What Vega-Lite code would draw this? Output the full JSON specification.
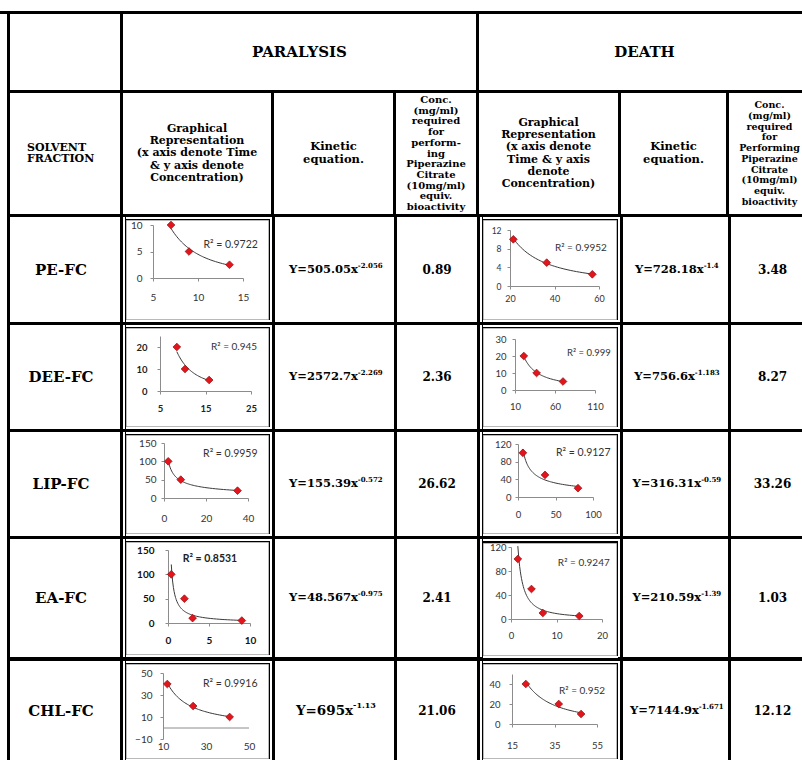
{
  "$schema": "https://vega.github.io/schema/vega-lite/v6.json",
  "background": "black",
  "padding": 0,
  "spacing": 3,
  "config": {
    "view": {"fill": "white", "stroke": null},
    "concat": {"spacing": 0},
    "text": {"font": "DejaVu Serif", "fontWeight": "bold", "color": "#000000", "lineBreak": "\n"},
    "axis": {"grid": false, "domainColor": "#8c8c8c", "tickColor": "#8c8c8c", "tickSize": 3, "labelFont": "Lato", "labelColor": "#333333", "labelFlush": false, "labelOverlap": false, "labelBound": false},
    "line": {"color": "#3a3a3a", "strokeWidth": 1},
    "point": {"shape": "diamond", "filled": true, "size": 60, "color": "#e3141b", "stroke": "#8e0b0b", "strokeWidth": 0.7, "opacity": 1}
  },
  "vconcat": [
    {"width": 802, "height": 11, "view": {"fill": "white"}, "data": {"values": []}, "mark": "point"},
    {
      "hconcat": [
        {"width": 7, "height": 746, "view": {"fill": "white"}, "data": {"values": []}, "mark": "point"},
        {
          "vconcat": [
            {
              "hconcat": [
                {"width": 110, "height": 76, "view": {"fill": "white"}, "data": {"values": []}, "mark": "point"},
                {"width": 353, "height": 76, "view": {"fill": "white"}, "data": {"values": [{"t": "PARALYSIS"}]}, "mark": {"type": "text", "fontSize": 15}, "encoding": {"text": {"field": "t"}}},
                {"width": 323, "height": 76, "view": {"fill": "white"}, "data": {"values": [{"t": "DEATH"}]}, "mark": {"type": "text", "fontSize": 15, "dx": 4}, "encoding": {"text": {"field": "t"}}}
              ],
              "spacing": 3
            },
            {
              "hconcat": [
                {"width": 110, "height": 121, "view": {"fill": "white"}, "data": {"values": [{"t": "SOLVENT\nFRACTION"}]}, "mark": {"type": "text", "fontSize": 11, "align": "left", "dx": -38, "dy": -5.75, "lineHeight": 11.5}, "encoding": {"text": {"field": "t"}}},
                {"width": 148, "height": 121, "view": {"fill": "white"}, "data": {"values": [{"t": "Graphical\nRepresentation\n(x axis denote Time\n& y axis denote\nConcentration)"}]}, "mark": {"type": "text", "fontSize": 11, "lineHeight": 12.4, "dy": -24.8}, "encoding": {"text": {"field": "t"}}},
                {"width": 119, "height": 121, "view": {"fill": "white"}, "data": {"values": [{"t": "Kinetic\nequation."}]}, "mark": {"type": "text", "fontSize": 11.5, "lineHeight": 12.4, "dy": -6.2}, "encoding": {"text": {"field": "t"}}},
                {"width": 80, "height": 121, "view": {"fill": "white"}, "data": {"values": [{"t": "Conc.\n(mg/ml)\nrequired\nfor\nperform-\ning\nPiperazine\nCitrate\n(10mg/ml)\nequiv.\nbioactivity"}]}, "mark": {"type": "text", "fontSize": 10, "lineHeight": 10.7, "dy": -53.5}, "encoding": {"text": {"field": "t"}}},
                {"width": 139, "height": 121, "view": {"fill": "white"}, "data": {"values": [{"t": "Graphical\nRepresentation\n(x axis denote\nTime & y axis\ndenote\nConcentration)"}]}, "mark": {"type": "text", "fontSize": 11, "lineHeight": 12.3, "dy": -30.75}, "encoding": {"text": {"field": "t"}}},
                {"width": 105, "height": 121, "view": {"fill": "white"}, "data": {"values": [{"t": "Kinetic\nequation."}]}, "mark": {"type": "text", "fontSize": 11.5, "lineHeight": 12.4, "dy": -6.2}, "encoding": {"text": {"field": "t"}}},
                {"width": 73, "height": 121, "view": {"fill": "white"}, "data": {"values": [{"t": "Conc.\n(mg/ml)\nrequired\nfor\nPerforming\nPiperazine\nCitrate\n(10mg/ml)\nequiv.\nbioactivity"}]}, "mark": {"type": "text", "fontSize": 9.5, "lineHeight": 10.7, "dx": 4, "dy": -48.15}, "encoding": {"text": {"field": "t"}}}
              ],
              "spacing": 3
            },
            {
              "hconcat": [
                {"width": 110, "height": 105, "view": {"fill": "white"}, "data": {"values": [{"t": "PE-FC"}]}, "mark": {"type": "text", "fontSize": 15, "dx": -4}, "encoding": {"text": {"field": "t"}}},
                {
                  "hconcat": [
                    {"width": 2, "height": 105, "view": {"fill": "white"}, "data": {"values": []}, "mark": "point"},
                    {
                      "vconcat": [
                        {"width": 144, "height": 2, "view": {"fill": "white"}, "data": {"values": []}, "mark": "point"},
                        {
                          "width": 142, "height": 99,
                          "view": {"fill": "white", "stroke": "#b9b9b9", "strokeWidth": 1},
                          "data": {"values": [{"t": 7, "c": 10}, {"t": 9, "c": 5}, {"t": 13.5, "c": 2.5}]},
                          "layer": [
                            {"transform": [{"regression": "c", "on": "t", "method": "pow"}], "mark": "line", "encoding": {
                              "x": {"field": "t", "type": "quantitative", "title": null, "scale": {"domain": [5, 15], "range": [27, 117], "nice": false, "zero": false}, "axis": {"values": [5, 10, 15], "offset": -41, "labelFontSize": 10, "labelPadding": 11, "labelOverlap": false}},
                              "y": {"field": "c", "type": "quantitative", "title": null, "scale": {"domain": [0, 10], "range": [58, 5], "nice": false, "zero": false}, "axis": {"values": [0, 5, 10], "offset": -27, "labelFontSize": 10, "labelPadding": 8, "labelOverlap": false}}}},
                            {"mark": "point", "encoding": {
                              "x": {"field": "t", "type": "quantitative", "title": null, "scale": {"domain": [5, 15], "range": [27, 117], "nice": false, "zero": false}, "axis": {"values": [5, 10, 15], "offset": -41, "labelFontSize": 10, "labelPadding": 11, "labelOverlap": false}},
                              "y": {"field": "c", "type": "quantitative", "title": null, "scale": {"domain": [0, 10], "range": [58, 5], "nice": false, "zero": false}, "axis": {"values": [0, 5, 10], "offset": -27, "labelFontSize": 10, "labelPadding": 8, "labelOverlap": false}}}},
                            {"data": {"values": [{"r": "R² = 0.9722"}]}, "mark": {"type": "text", "font": "Lato", "fontWeight": "normal", "fontSize": 10.5, "align": "left", "color": "#333333"}, "encoding": {
                              "x": {"datum": 10.6, "type": "quantitative", "scale": {"domain": [5, 15], "range": [27, 117], "nice": false, "zero": false}, "axis": {"values": [5, 10, 15], "offset": -41, "labelFontSize": 10, "labelPadding": 11, "labelOverlap": false}},
                              "y": {"datum": 6.2, "type": "quantitative", "scale": {"domain": [0, 10], "range": [58, 5], "nice": false, "zero": false}, "axis": {"values": [0, 5, 10], "offset": -27, "labelFontSize": 10, "labelPadding": 8, "labelOverlap": false}},
                              "text": {"field": "r", "type": "nominal"}}}
                          ]
                        },
                        {"width": 144, "height": 2, "view": {"fill": "white"}, "data": {"values": []}, "mark": "point"}
                      ],
                      "spacing": 0
                    },
                    {"width": 2, "height": 105, "view": {"fill": "white"}, "data": {"values": []}, "mark": "point"}
                  ],
                  "spacing": 0
                },
                {"width": 119, "height": 105, "view": {"fill": "white"}, "data": {"values": [{"b": "Y=505.05x", "e": "-2.056"}]}, "layer": [{"mark": {"type": "text", "fontSize": 11.5, "align": "right", "dx": 23.3}, "encoding": {"text": {"field": "b"}}}, {"mark": {"type": "text", "fontSize": 7, "align": "left", "dx": 23.3, "dy": -4}, "encoding": {"text": {"field": "e"}}}]},
                {"width": 80, "height": 105, "view": {"fill": "white"}, "data": {"values": [{"t": "0.89"}]}, "mark": {"type": "text", "fontSize": 12}, "encoding": {"text": {"field": "t"}}},
                {
                  "hconcat": [
                    {"width": 2, "height": 105, "view": {"fill": "white"}, "data": {"values": []}, "mark": "point"},
                    {
                      "vconcat": [
                        {"width": 135, "height": 2, "view": {"fill": "white"}, "data": {"values": []}, "mark": "point"},
                        {
                          "width": 133, "height": 99,
                          "view": {"fill": "white", "stroke": "#b9b9b9", "strokeWidth": 1},
                          "data": {"values": [{"t": 21.5, "c": 10}, {"t": 36.5, "c": 5}, {"t": 57, "c": 2.5}]},
                          "layer": [
                            {"transform": [{"regression": "c", "on": "t", "method": "pow"}], "mark": "line", "encoding": {
                              "x": {"field": "t", "type": "quantitative", "title": null, "scale": {"domain": [20, 60], "range": [27, 116], "nice": false, "zero": false}, "axis": {"values": [20, 40, 60], "offset": -33, "labelFontSize": 9, "labelPadding": 5, "labelOverlap": false}},
                              "y": {"field": "c", "type": "quantitative", "title": null, "scale": {"domain": [0, 12], "range": [66, 10], "nice": false, "zero": false}, "axis": {"values": [0, 4, 8, 12], "offset": -27, "labelFontSize": 8.5, "labelPadding": 6, "labelOverlap": false}}}},
                            {"mark": "point", "encoding": {
                              "x": {"field": "t", "type": "quantitative", "title": null, "scale": {"domain": [20, 60], "range": [27, 116], "nice": false, "zero": false}, "axis": {"values": [20, 40, 60], "offset": -33, "labelFontSize": 9, "labelPadding": 5, "labelOverlap": false}},
                              "y": {"field": "c", "type": "quantitative", "title": null, "scale": {"domain": [0, 12], "range": [66, 10], "nice": false, "zero": false}, "axis": {"values": [0, 4, 8, 12], "offset": -27, "labelFontSize": 8.5, "labelPadding": 6, "labelOverlap": false}}}},
                            {"data": {"values": [{"r": "R² = 0.9952"}]}, "mark": {"type": "text", "font": "Lato", "fontWeight": "normal", "fontSize": 10, "align": "left", "color": "#333333"}, "encoding": {
                              "x": {"datum": 40.2, "type": "quantitative", "scale": {"domain": [20, 60], "range": [27, 116], "nice": false, "zero": false}, "axis": {"values": [20, 40, 60], "offset": -33, "labelFontSize": 9, "labelPadding": 5, "labelOverlap": false}},
                              "y": {"datum": 8.1, "type": "quantitative", "scale": {"domain": [0, 12], "range": [66, 10], "nice": false, "zero": false}, "axis": {"values": [0, 4, 8, 12], "offset": -27, "labelFontSize": 8.5, "labelPadding": 6, "labelOverlap": false}},
                              "text": {"field": "r", "type": "nominal"}}}
                          ]
                        },
                        {"width": 135, "height": 2, "view": {"fill": "white"}, "data": {"values": []}, "mark": "point"}
                      ],
                      "spacing": 0
                    },
                    {"width": 2, "height": 105, "view": {"fill": "white"}, "data": {"values": []}, "mark": "point"}
                  ],
                  "spacing": 0
                },
                {"width": 105, "height": 105, "view": {"fill": "white"}, "data": {"values": [{"b": "Y=728.18x", "e": "-1.4"}]}, "layer": [{"mark": {"type": "text", "fontSize": 11.5, "align": "right", "dx": 28.15}, "encoding": {"text": {"field": "b"}}}, {"mark": {"type": "text", "fontSize": 7, "align": "left", "dx": 28.15, "dy": -4}, "encoding": {"text": {"field": "e"}}}]},
                {"width": 73, "height": 105, "view": {"fill": "white"}, "data": {"values": [{"t": "3.48"}]}, "mark": {"type": "text", "fontSize": 12, "dx": 5}, "encoding": {"text": {"field": "t"}}}
              ],
              "spacing": 3
            },
            {
              "hconcat": [
                {"width": 110, "height": 104, "view": {"fill": "white"}, "data": {"values": [{"t": "DEE-FC"}]}, "mark": {"type": "text", "fontSize": 15, "dx": -4}, "encoding": {"text": {"field": "t"}}},
                {
                  "hconcat": [
                    {"width": 2, "height": 104, "view": {"fill": "white"}, "data": {"values": []}, "mark": "point"},
                    {
                      "vconcat": [
                        {"width": 144, "height": 2, "view": {"fill": "white"}, "data": {"values": []}, "mark": "point"},
                        {
                          "width": 142, "height": 98,
                          "view": {"fill": "white", "stroke": "#b9b9b9", "strokeWidth": 1},
                          "data": {"values": [{"t": 8.7, "c": 20}, {"t": 10.5, "c": 10}, {"t": 15.8, "c": 5}]},
                          "layer": [
                            {"transform": [{"regression": "c", "on": "t", "method": "pow"}], "mark": "line", "encoding": {
                              "x": {"field": "t", "type": "quantitative", "title": null, "scale": {"domain": [5, 25], "range": [34, 125], "nice": false, "zero": false}, "axis": {"values": [5, 15, 25], "offset": -35, "labelFontSize": 9.5, "labelPadding": 9, "labelFontWeight": "bold", "labelColor": "#222222", "labelOverlap": false}},
                              "y": {"field": "c", "type": "quantitative", "title": null, "scale": {"domain": [0, 25], "range": [63, 8], "nice": false, "zero": false}, "axis": {"values": [0, 10, 20], "offset": -34, "labelFontSize": 9.5, "labelPadding": 10, "labelFontWeight": "bold", "labelColor": "#222222", "labelOverlap": false}}}},
                            {"mark": "point", "encoding": {
                              "x": {"field": "t", "type": "quantitative", "title": null, "scale": {"domain": [5, 25], "range": [34, 125], "nice": false, "zero": false}, "axis": {"values": [5, 15, 25], "offset": -35, "labelFontSize": 9.5, "labelPadding": 9, "labelFontWeight": "bold", "labelColor": "#222222", "labelOverlap": false}},
                              "y": {"field": "c", "type": "quantitative", "title": null, "scale": {"domain": [0, 25], "range": [63, 8], "nice": false, "zero": false}, "axis": {"values": [0, 10, 20], "offset": -34, "labelFontSize": 9.5, "labelPadding": 10, "labelFontWeight": "bold", "labelColor": "#222222", "labelOverlap": false}}}},
                            {"data": {"values": [{"r": "R² = 0.945"}]}, "mark": {"type": "text", "font": "Lato", "fontWeight": "normal", "fontSize": 10, "align": "left", "color": "#333333"}, "encoding": {
                              "x": {"datum": 16.2, "type": "quantitative", "scale": {"domain": [5, 25], "range": [34, 125], "nice": false, "zero": false}, "axis": {"values": [5, 15, 25], "offset": -35, "labelFontSize": 9.5, "labelPadding": 9, "labelFontWeight": "bold", "labelColor": "#222222", "labelOverlap": false}},
                              "y": {"datum": 20, "type": "quantitative", "scale": {"domain": [0, 25], "range": [63, 8], "nice": false, "zero": false}, "axis": {"values": [0, 10, 20], "offset": -34, "labelFontSize": 9.5, "labelPadding": 10, "labelFontWeight": "bold", "labelColor": "#222222", "labelOverlap": false}},
                              "text": {"field": "r", "type": "nominal"}}}
                          ]
                        },
                        {"width": 144, "height": 2, "view": {"fill": "white"}, "data": {"values": []}, "mark": "point"}
                      ],
                      "spacing": 0
                    },
                    {"width": 2, "height": 104, "view": {"fill": "white"}, "data": {"values": []}, "mark": "point"}
                  ],
                  "spacing": 0
                },
                {"width": 119, "height": 104, "view": {"fill": "white"}, "data": {"values": [{"b": "Y=2572.7x", "e": "-2.269"}]}, "layer": [{"mark": {"type": "text", "fontSize": 11.5, "align": "right", "dx": 23.3}, "encoding": {"text": {"field": "b"}}}, {"mark": {"type": "text", "fontSize": 7, "align": "left", "dx": 23.3, "dy": -4}, "encoding": {"text": {"field": "e"}}}]},
                {"width": 80, "height": 104, "view": {"fill": "white"}, "data": {"values": [{"t": "2.36"}]}, "mark": {"type": "text", "fontSize": 12}, "encoding": {"text": {"field": "t"}}},
                {
                  "hconcat": [
                    {"width": 2, "height": 104, "view": {"fill": "white"}, "data": {"values": []}, "mark": "point"},
                    {
                      "vconcat": [
                        {"width": 135, "height": 2, "view": {"fill": "white"}, "data": {"values": []}, "mark": "point"},
                        {
                          "width": 133, "height": 98,
                          "view": {"fill": "white", "stroke": "#b9b9b9", "strokeWidth": 1},
                          "data": {"values": [{"t": 21, "c": 20}, {"t": 37, "c": 10}, {"t": 70, "c": 5}]},
                          "layer": [
                            {"transform": [{"regression": "c", "on": "t", "method": "pow"}], "mark": "line", "encoding": {
                              "x": {"field": "t", "type": "quantitative", "title": null, "scale": {"domain": [10, 110], "range": [32, 112], "nice": false, "zero": false}, "axis": {"values": [10, 60, 110], "offset": -36, "labelFontSize": 9.5, "labelPadding": 8, "labelOverlap": false}},
                              "y": {"field": "c", "type": "quantitative", "title": null, "scale": {"domain": [0, 30], "range": [62, 11], "nice": false, "zero": false}, "axis": {"values": [0, 10, 20, 30], "offset": -32, "labelFontSize": 9.5, "labelPadding": 6, "labelOverlap": false}}}},
                            {"mark": "point", "encoding": {
                              "x": {"field": "t", "type": "quantitative", "title": null, "scale": {"domain": [10, 110], "range": [32, 112], "nice": false, "zero": false}, "axis": {"values": [10, 60, 110], "offset": -36, "labelFontSize": 9.5, "labelPadding": 8, "labelOverlap": false}},
                              "y": {"field": "c", "type": "quantitative", "title": null, "scale": {"domain": [0, 30], "range": [62, 11], "nice": false, "zero": false}, "axis": {"values": [0, 10, 20, 30], "offset": -32, "labelFontSize": 9.5, "labelPadding": 6, "labelOverlap": false}}}},
                            {"data": {"values": [{"r": "R² = 0.999"}]}, "mark": {"type": "text", "font": "Lato", "fontWeight": "normal", "fontSize": 9.5, "align": "left", "color": "#333333"}, "encoding": {
                              "x": {"datum": 75, "type": "quantitative", "scale": {"domain": [10, 110], "range": [32, 112], "nice": false, "zero": false}, "axis": {"values": [10, 60, 110], "offset": -36, "labelFontSize": 9.5, "labelPadding": 8, "labelOverlap": false}},
                              "y": {"datum": 21.8, "type": "quantitative", "scale": {"domain": [0, 30], "range": [62, 11], "nice": false, "zero": false}, "axis": {"values": [0, 10, 20, 30], "offset": -32, "labelFontSize": 9.5, "labelPadding": 6, "labelOverlap": false}},
                              "text": {"field": "r", "type": "nominal"}}}
                          ]
                        },
                        {"width": 135, "height": 2, "view": {"fill": "white"}, "data": {"values": []}, "mark": "point"}
                      ],
                      "spacing": 0
                    },
                    {"width": 2, "height": 104, "view": {"fill": "white"}, "data": {"values": []}, "mark": "point"}
                  ],
                  "spacing": 0
                },
                {"width": 105, "height": 104, "view": {"fill": "white"}, "data": {"values": [{"b": "Y=756.6x", "e": "-1.183"}]}, "layer": [{"mark": {"type": "text", "fontSize": 11.5, "align": "right", "dx": 19.35}, "encoding": {"text": {"field": "b"}}}, {"mark": {"type": "text", "fontSize": 7, "align": "left", "dx": 19.35, "dy": -4}, "encoding": {"text": {"field": "e"}}}]},
                {"width": 73, "height": 104, "view": {"fill": "white"}, "data": {"values": [{"t": "8.27"}]}, "mark": {"type": "text", "fontSize": 12, "dx": 5}, "encoding": {"text": {"field": "t"}}}
              ],
              "spacing": 3
            },
            {
              "hconcat": [
                {"width": 110, "height": 104, "view": {"fill": "white"}, "data": {"values": [{"t": "LIP-FC"}]}, "mark": {"type": "text", "fontSize": 15, "dx": -4}, "encoding": {"text": {"field": "t"}}},
                {
                  "hconcat": [
                    {"width": 2, "height": 104, "view": {"fill": "white"}, "data": {"values": []}, "mark": "point"},
                    {
                      "vconcat": [
                        {"width": 144, "height": 2, "view": {"fill": "white"}, "data": {"values": []}, "mark": "point"},
                        {
                          "width": 142, "height": 98,
                          "view": {"fill": "white", "stroke": "#b9b9b9", "strokeWidth": 1},
                          "data": {"values": [{"t": 2, "c": 100}, {"t": 8, "c": 50}, {"t": 35, "c": 20}]},
                          "layer": [
                            {"transform": [{"regression": "c", "on": "t", "method": "pow"}], "mark": "line", "encoding": {
                              "x": {"field": "t", "type": "quantitative", "title": null, "scale": {"domain": [0, 40], "range": [38, 122], "nice": false, "zero": false}, "axis": {"values": [0, 20, 40], "offset": -35, "labelFontSize": 10, "labelPadding": 12, "labelOverlap": false}},
                              "y": {"field": "c", "type": "quantitative", "title": null, "scale": {"domain": [0, 150], "range": [63, 8], "nice": false, "zero": false}, "axis": {"values": [0, 50, 100, 150], "offset": -38, "labelFontSize": 10, "labelPadding": 5, "labelOverlap": false}}}},
                            {"mark": "point", "encoding": {
                              "x": {"field": "t", "type": "quantitative", "title": null, "scale": {"domain": [0, 40], "range": [38, 122], "nice": false, "zero": false}, "axis": {"values": [0, 20, 40], "offset": -35, "labelFontSize": 10, "labelPadding": 12, "labelOverlap": false}},
                              "y": {"field": "c", "type": "quantitative", "title": null, "scale": {"domain": [0, 150], "range": [63, 8], "nice": false, "zero": false}, "axis": {"values": [0, 50, 100, 150], "offset": -38, "labelFontSize": 10, "labelPadding": 5, "labelOverlap": false}}}},
                            {"data": {"values": [{"r": "R² = 0.9959"}]}, "mark": {"type": "text", "font": "Lato", "fontWeight": "normal", "fontSize": 10.5, "align": "left", "color": "#333333"}, "encoding": {
                              "x": {"datum": 18.6, "type": "quantitative", "scale": {"domain": [0, 40], "range": [38, 122], "nice": false, "zero": false}, "axis": {"values": [0, 20, 40], "offset": -35, "labelFontSize": 10, "labelPadding": 12, "labelOverlap": false}},
                              "y": {"datum": 120, "type": "quantitative", "scale": {"domain": [0, 150], "range": [63, 8], "nice": false, "zero": false}, "axis": {"values": [0, 50, 100, 150], "offset": -38, "labelFontSize": 10, "labelPadding": 5, "labelOverlap": false}},
                              "text": {"field": "r", "type": "nominal"}}}
                          ]
                        },
                        {"width": 144, "height": 2, "view": {"fill": "white"}, "data": {"values": []}, "mark": "point"}
                      ],
                      "spacing": 0
                    },
                    {"width": 2, "height": 104, "view": {"fill": "white"}, "data": {"values": []}, "mark": "point"}
                  ],
                  "spacing": 0
                },
                {"width": 119, "height": 104, "view": {"fill": "white"}, "data": {"values": [{"b": "Y=155.39x", "e": "-0.572"}]}, "layer": [{"mark": {"type": "text", "fontSize": 11.5, "align": "right", "dx": 23.3}, "encoding": {"text": {"field": "b"}}}, {"mark": {"type": "text", "fontSize": 7, "align": "left", "dx": 23.3, "dy": -4}, "encoding": {"text": {"field": "e"}}}]},
                {"width": 80, "height": 104, "view": {"fill": "white"}, "data": {"values": [{"t": "26.62"}]}, "mark": {"type": "text", "fontSize": 12}, "encoding": {"text": {"field": "t"}}},
                {
                  "hconcat": [
                    {"width": 2, "height": 104, "view": {"fill": "white"}, "data": {"values": []}, "mark": "point"},
                    {
                      "vconcat": [
                        {"width": 135, "height": 2, "view": {"fill": "white"}, "data": {"values": []}, "mark": "point"},
                        {
                          "width": 133, "height": 98,
                          "view": {"fill": "white", "stroke": "#b9b9b9", "strokeWidth": 1},
                          "data": {"values": [{"t": 6.5, "c": 100}, {"t": 36, "c": 50}, {"t": 80, "c": 20}]},
                          "layer": [
                            {"transform": [{"regression": "c", "on": "t", "method": "pow"}], "mark": "line", "encoding": {
                              "x": {"field": "t", "type": "quantitative", "title": null, "scale": {"domain": [0, 100], "range": [35, 110], "nice": false, "zero": false}, "axis": {"values": [0, 50, 100], "offset": -36, "labelFontSize": 9.5, "labelPadding": 9.7, "labelOverlap": false}},
                              "y": {"field": "c", "type": "quantitative", "title": null, "scale": {"domain": [0, 120], "range": [62, 9], "nice": false, "zero": false}, "axis": {"values": [0, 40, 80, 120], "offset": -35, "labelFontSize": 9.5, "labelPadding": 4, "labelOverlap": false}}}},
                            {"mark": "point", "encoding": {
                              "x": {"field": "t", "type": "quantitative", "title": null, "scale": {"domain": [0, 100], "range": [35, 110], "nice": false, "zero": false}, "axis": {"values": [0, 50, 100], "offset": -36, "labelFontSize": 9.5, "labelPadding": 9.7, "labelOverlap": false}},
                              "y": {"field": "c", "type": "quantitative", "title": null, "scale": {"domain": [0, 120], "range": [62, 9], "nice": false, "zero": false}, "axis": {"values": [0, 40, 80, 120], "offset": -35, "labelFontSize": 9.5, "labelPadding": 4, "labelOverlap": false}}}},
                            {"data": {"values": [{"r": "R² = 0.9127"}]}, "mark": {"type": "text", "font": "Lato", "fontWeight": "normal", "fontSize": 10.5, "align": "left", "color": "#333333"}, "encoding": {
                              "x": {"datum": 50.7, "type": "quantitative", "scale": {"domain": [0, 100], "range": [35, 110], "nice": false, "zero": false}, "axis": {"values": [0, 50, 100], "offset": -36, "labelFontSize": 9.5, "labelPadding": 9.7, "labelOverlap": false}},
                              "y": {"datum": 99.5, "type": "quantitative", "scale": {"domain": [0, 120], "range": [62, 9], "nice": false, "zero": false}, "axis": {"values": [0, 40, 80, 120], "offset": -35, "labelFontSize": 9.5, "labelPadding": 4, "labelOverlap": false}},
                              "text": {"field": "r", "type": "nominal"}}}
                          ]
                        },
                        {"width": 135, "height": 2, "view": {"fill": "white"}, "data": {"values": []}, "mark": "point"}
                      ],
                      "spacing": 0
                    },
                    {"width": 2, "height": 104, "view": {"fill": "white"}, "data": {"values": []}, "mark": "point"}
                  ],
                  "spacing": 0
                },
                {"width": 105, "height": 104, "view": {"fill": "white"}, "data": {"values": [{"b": "Y=316.31x", "e": "-0.59"}]}, "layer": [{"mark": {"type": "text", "fontSize": 11.5, "align": "right", "dx": 25.7}, "encoding": {"text": {"field": "b"}}}, {"mark": {"type": "text", "fontSize": 7, "align": "left", "dx": 25.7, "dy": -4}, "encoding": {"text": {"field": "e"}}}]},
                {"width": 73, "height": 104, "view": {"fill": "white"}, "data": {"values": [{"t": "33.26"}]}, "mark": {"type": "text", "fontSize": 12, "dx": 5}, "encoding": {"text": {"field": "t"}}}
              ],
              "spacing": 3
            },
            {
              "hconcat": [
                {"width": 110, "height": 118, "view": {"fill": "white"}, "data": {"values": [{"t": "EA-FC"}]}, "mark": {"type": "text", "fontSize": 15, "dx": -4}, "encoding": {"text": {"field": "t"}}},
                {
                  "hconcat": [
                    {"width": 2, "height": 118, "view": {"fill": "white"}, "data": {"values": []}, "mark": "point"},
                    {
                      "vconcat": [
                        {"width": 144, "height": 2, "view": {"fill": "white"}, "data": {"values": []}, "mark": "point"},
                        {
                          "width": 142, "height": 112,
                          "view": {"fill": "white", "stroke": "#b9b9b9", "strokeWidth": 1},
                          "data": {"values": [{"t": 0.4, "c": 100}, {"t": 2, "c": 50}, {"t": 3, "c": 10}, {"t": 9, "c": 5}]},
                          "layer": [
                            {"transform": [{"regression": "c", "on": "t", "method": "pow"}], "mark": "line", "encoding": {
                              "x": {"field": "t", "type": "quantitative", "title": null, "scale": {"domain": [0, 10], "range": [42, 124], "nice": false, "zero": false}, "axis": {"values": [0, 5, 10], "offset": -31, "labelFontSize": 10, "labelPadding": 9.7, "labelFontWeight": "bold", "labelColor": "#111111", "labelOverlap": false}},
                              "y": {"field": "c", "type": "quantitative", "title": null, "scale": {"domain": [0, 150], "range": [81, 8], "nice": false, "zero": false}, "axis": {"values": [0, 50, 100, 150], "offset": -42, "labelFontSize": 10, "labelPadding": 11, "labelFontWeight": "bold", "labelColor": "#111111", "labelOverlap": false}}}},
                            {"mark": "point", "encoding": {
                              "x": {"field": "t", "type": "quantitative", "title": null, "scale": {"domain": [0, 10], "range": [42, 124], "nice": false, "zero": false}, "axis": {"values": [0, 5, 10], "offset": -31, "labelFontSize": 10, "labelPadding": 9.7, "labelFontWeight": "bold", "labelColor": "#111111", "labelOverlap": false}},
                              "y": {"field": "c", "type": "quantitative", "title": null, "scale": {"domain": [0, 150], "range": [81, 8], "nice": false, "zero": false}, "axis": {"values": [0, 50, 100, 150], "offset": -42, "labelFontSize": 10, "labelPadding": 11, "labelFontWeight": "bold", "labelColor": "#111111", "labelOverlap": false}}}},
                            {"data": {"values": [{"r": "R² = 0.8531"}]}, "mark": {"type": "text", "font": "Lato", "fontWeight": "bold", "fontSize": 10.5, "align": "left", "color": "#222222"}, "encoding": {
                              "x": {"datum": 1.8, "type": "quantitative", "scale": {"domain": [0, 10], "range": [42, 124], "nice": false, "zero": false}, "axis": {"values": [0, 5, 10], "offset": -31, "labelFontSize": 10, "labelPadding": 9.7, "labelFontWeight": "bold", "labelColor": "#111111", "labelOverlap": false}},
                              "y": {"datum": 131, "type": "quantitative", "scale": {"domain": [0, 150], "range": [81, 8], "nice": false, "zero": false}, "axis": {"values": [0, 50, 100, 150], "offset": -42, "labelFontSize": 10, "labelPadding": 11, "labelFontWeight": "bold", "labelColor": "#111111", "labelOverlap": false}},
                              "text": {"field": "r", "type": "nominal"}}}
                          ]
                        },
                        {"width": 144, "height": 2, "view": {"fill": "white"}, "data": {"values": []}, "mark": "point"}
                      ],
                      "spacing": 0
                    },
                    {"width": 2, "height": 118, "view": {"fill": "white"}, "data": {"values": []}, "mark": "point"}
                  ],
                  "spacing": 0
                },
                {"width": 119, "height": 118, "view": {"fill": "white"}, "data": {"values": [{"b": "Y=48.567x", "e": "-0.975"}]}, "layer": [{"mark": {"type": "text", "fontSize": 11.5, "align": "right", "dx": 23.3}, "encoding": {"text": {"field": "b"}}}, {"mark": {"type": "text", "fontSize": 7, "align": "left", "dx": 23.3, "dy": -4}, "encoding": {"text": {"field": "e"}}}]},
                {"width": 80, "height": 118, "view": {"fill": "white"}, "data": {"values": [{"t": "2.41"}]}, "mark": {"type": "text", "fontSize": 12}, "encoding": {"text": {"field": "t"}}},
                {
                  "hconcat": [
                    {"width": 2, "height": 118, "view": {"fill": "white"}, "data": {"values": []}, "mark": "point"},
                    {
                      "vconcat": [
                        {"width": 135, "height": 2, "view": {"fill": "white"}, "data": {"values": []}, "mark": "point"},
                        {
                          "width": 133, "height": 112,
                          "view": {"fill": "white", "stroke": "#b9b9b9", "strokeWidth": 1},
                          "data": {"values": [{"t": 1.5, "c": 100}, {"t": 4.5, "c": 50}, {"t": 7, "c": 10}, {"t": 15, "c": 5}]},
                          "layer": [
                            {"transform": [{"regression": "c", "on": "t", "method": "pow"}], "mark": "line", "encoding": {
                              "x": {"field": "t", "type": "quantitative", "title": null, "scale": {"domain": [0, 20], "range": [28, 119], "nice": false, "zero": false}, "axis": {"values": [0, 10, 20], "offset": -36, "labelFontSize": 9.5, "labelPadding": 8.7, "labelOverlap": false}},
                              "y": {"field": "c", "type": "quantitative", "title": null, "scale": {"domain": [0, 120], "range": [76, 4], "nice": false, "zero": false}, "axis": {"values": [0, 40, 80, 120], "offset": -28, "labelFontSize": 9.5, "labelPadding": 2, "labelOverlap": false}}}},
                            {"mark": "point", "encoding": {
                              "x": {"field": "t", "type": "quantitative", "title": null, "scale": {"domain": [0, 20], "range": [28, 119], "nice": false, "zero": false}, "axis": {"values": [0, 10, 20], "offset": -36, "labelFontSize": 9.5, "labelPadding": 8.7, "labelOverlap": false}},
                              "y": {"field": "c", "type": "quantitative", "title": null, "scale": {"domain": [0, 120], "range": [76, 4], "nice": false, "zero": false}, "axis": {"values": [0, 40, 80, 120], "offset": -28, "labelFontSize": 9.5, "labelPadding": 2, "labelOverlap": false}}}},
                            {"data": {"values": [{"r": "R² = 0.9247"}]}, "mark": {"type": "text", "font": "Lato", "fontWeight": "normal", "fontSize": 10, "align": "left", "color": "#333333"}, "encoding": {
                              "x": {"datum": 10.3, "type": "quantitative", "scale": {"domain": [0, 20], "range": [28, 119], "nice": false, "zero": false}, "axis": {"values": [0, 10, 20], "offset": -36, "labelFontSize": 9.5, "labelPadding": 8.7, "labelOverlap": false}},
                              "y": {"datum": 93, "type": "quantitative", "scale": {"domain": [0, 120], "range": [76, 4], "nice": false, "zero": false}, "axis": {"values": [0, 40, 80, 120], "offset": -28, "labelFontSize": 9.5, "labelPadding": 2, "labelOverlap": false}},
                              "text": {"field": "r", "type": "nominal"}}}
                          ]
                        },
                        {"width": 135, "height": 2, "view": {"fill": "white"}, "data": {"values": []}, "mark": "point"}
                      ],
                      "spacing": 0
                    },
                    {"width": 2, "height": 118, "view": {"fill": "white"}, "data": {"values": []}, "mark": "point"}
                  ],
                  "spacing": 0
                },
                {"width": 105, "height": 118, "view": {"fill": "white"}, "data": {"values": [{"b": "Y=210.59x", "e": "-1.39"}]}, "layer": [{"mark": {"type": "text", "fontSize": 11.5, "align": "right", "dx": 25.7}, "encoding": {"text": {"field": "b"}}}, {"mark": {"type": "text", "fontSize": 7, "align": "left", "dx": 25.7, "dy": -4}, "encoding": {"text": {"field": "e"}}}]},
                {"width": 73, "height": 118, "view": {"fill": "white"}, "data": {"values": [{"t": "1.03"}]}, "mark": {"type": "text", "fontSize": 12, "dx": 5}, "encoding": {"text": {"field": "t"}}}
              ],
              "spacing": 3
            },
            {
              "hconcat": [
                {"width": 110, "height": 100, "view": {"fill": "white"}, "data": {"values": [{"t": "CHL-FC"}]}, "mark": {"type": "text", "fontSize": 15, "dx": -4}, "encoding": {"text": {"field": "t"}}},
                {
                  "hconcat": [
                    {"width": 2, "height": 100, "view": {"fill": "white"}, "data": {"values": []}, "mark": "point"},
                    {
                      "vconcat": [
                        {"width": 144, "height": 2, "view": {"fill": "white"}, "data": {"values": []}, "mark": "point"},
                        {
                          "width": 142, "height": 94,
                          "view": {"fill": "white", "stroke": "#b9b9b9", "strokeWidth": 1},
                          "data": {"values": [{"t": 12, "c": 40}, {"t": 24, "c": 20}, {"t": 41, "c": 10}]},
                          "layer": [
                            {"data": {"values": [{}]}, "mark": {"type": "rule", "color": "#8c8c8c", "strokeWidth": 1}, "encoding": {
                              "x": {"datum": 10, "type": "quantitative", "scale": {"domain": [10, 50], "range": [37, 123], "nice": false, "zero": false}, "axis": {"values": [10, 30, 50], "offset": -19, "domain": false, "ticks": false, "tickSize": 0, "labelFontSize": 10, "labelPadding": 2, "labelOverlap": false}},
                              "x2": {"datum": 50},
                              "y": {"datum": 0, "type": "quantitative", "scale": {"domain": [-10, 50], "range": [75, 9], "nice": false, "zero": false}, "axis": {"values": [-10, 10, 30, 50], "offset": -37, "labelFontSize": 10, "labelPadding": 8, "labelOverlap": false}}}},
                            {"transform": [{"regression": "c", "on": "t", "method": "pow"}], "mark": "line", "encoding": {
                              "x": {"field": "t", "type": "quantitative", "title": null, "scale": {"domain": [10, 50], "range": [37, 123], "nice": false, "zero": false}, "axis": {"values": [10, 30, 50], "offset": -19, "domain": false, "ticks": false, "tickSize": 0, "labelFontSize": 10, "labelPadding": 2, "labelOverlap": false}},
                              "y": {"field": "c", "type": "quantitative", "title": null, "scale": {"domain": [-10, 50], "range": [75, 9], "nice": false, "zero": false}, "axis": {"values": [-10, 10, 30, 50], "offset": -37, "labelFontSize": 10, "labelPadding": 8, "labelOverlap": false}}}},
                            {"mark": "point", "encoding": {
                              "x": {"field": "t", "type": "quantitative", "title": null, "scale": {"domain": [10, 50], "range": [37, 123], "nice": false, "zero": false}, "axis": {"values": [10, 30, 50], "offset": -19, "domain": false, "ticks": false, "tickSize": 0, "labelFontSize": 10, "labelPadding": 2, "labelOverlap": false}},
                              "y": {"field": "c", "type": "quantitative", "title": null, "scale": {"domain": [-10, 50], "range": [75, 9], "nice": false, "zero": false}, "axis": {"values": [-10, 10, 30, 50], "offset": -37, "labelFontSize": 10, "labelPadding": 8, "labelOverlap": false}}}},
                            {"data": {"values": [{"r": "R² = 0.9916"}]}, "mark": {"type": "text", "font": "Lato", "fontWeight": "normal", "fontSize": 10.5, "align": "left", "color": "#333333"}, "encoding": {
                              "x": {"datum": 28.6, "type": "quantitative", "scale": {"domain": [10, 50], "range": [37, 123], "nice": false, "zero": false}, "axis": {"values": [10, 30, 50], "offset": -19, "domain": false, "ticks": false, "tickSize": 0, "labelFontSize": 10, "labelPadding": 2, "labelOverlap": false}},
                              "y": {"datum": 40, "type": "quantitative", "scale": {"domain": [-10, 50], "range": [75, 9], "nice": false, "zero": false}, "axis": {"values": [-10, 10, 30, 50], "offset": -37, "labelFontSize": 10, "labelPadding": 8, "labelOverlap": false}},
                              "text": {"field": "r", "type": "nominal"}}}
                          ]
                        },
                        {"width": 144, "height": 2, "view": {"fill": "white"}, "data": {"values": []}, "mark": "point"}
                      ],
                      "spacing": 0
                    },
                    {"width": 2, "height": 100, "view": {"fill": "white"}, "data": {"values": []}, "mark": "point"}
                  ],
                  "spacing": 0
                },
                {"width": 119, "height": 100, "view": {"fill": "white"}, "data": {"values": [{"b": "Y=695x", "e": "-1.13"}]}, "layer": [{"mark": {"type": "text", "fontSize": 13.5, "align": "right", "dx": 18.6}, "encoding": {"text": {"field": "b"}}}, {"mark": {"type": "text", "fontSize": 8, "align": "left", "dx": 18.6, "dy": -5}, "encoding": {"text": {"field": "e"}}}]},
                {"width": 80, "height": 100, "view": {"fill": "white"}, "data": {"values": [{"t": "21.06"}]}, "mark": {"type": "text", "fontSize": 12}, "encoding": {"text": {"field": "t"}}},
                {
                  "hconcat": [
                    {"width": 2, "height": 100, "view": {"fill": "white"}, "data": {"values": []}, "mark": "point"},
                    {
                      "vconcat": [
                        {"width": 135, "height": 2, "view": {"fill": "white"}, "data": {"values": []}, "mark": "point"},
                        {
                          "width": 133, "height": 94,
                          "view": {"fill": "white", "stroke": "#b9b9b9", "strokeWidth": 1},
                          "data": {"values": [{"t": 21.5, "c": 40}, {"t": 37, "c": 20}, {"t": 47.5, "c": 10}]},
                          "layer": [
                            {"transform": [{"regression": "c", "on": "t", "method": "pow"}], "mark": "line", "encoding": {
                              "x": {"field": "t", "type": "quantitative", "title": null, "scale": {"domain": [15, 55], "range": [29, 114], "nice": false, "zero": false}, "axis": {"values": [15, 35, 55], "offset": -34, "labelFontSize": 9.5, "labelPadding": 13, "labelOverlap": false}},
                              "y": {"field": "c", "type": "quantitative", "title": null, "scale": {"domain": [0, 50], "range": [60, 10], "nice": false, "zero": false}, "axis": {"values": [0, 20, 40], "offset": -29, "labelFontSize": 9.5, "labelPadding": 9, "labelOverlap": false}}}},
                            {"mark": "point", "encoding": {
                              "x": {"field": "t", "type": "quantitative", "title": null, "scale": {"domain": [15, 55], "range": [29, 114], "nice": false, "zero": false}, "axis": {"values": [15, 35, 55], "offset": -34, "labelFontSize": 9.5, "labelPadding": 13, "labelOverlap": false}},
                              "y": {"field": "c", "type": "quantitative", "title": null, "scale": {"domain": [0, 50], "range": [60, 10], "nice": false, "zero": false}, "axis": {"values": [0, 20, 40], "offset": -29, "labelFontSize": 9.5, "labelPadding": 9, "labelOverlap": false}}}},
                            {"data": {"values": [{"r": "R² = 0.952"}]}, "mark": {"type": "text", "font": "Lato", "fontWeight": "normal", "fontSize": 10, "align": "left", "color": "#333333"}, "encoding": {
                              "x": {"datum": 37.1, "type": "quantitative", "scale": {"domain": [15, 55], "range": [29, 114], "nice": false, "zero": false}, "axis": {"values": [15, 35, 55], "offset": -34, "labelFontSize": 9.5, "labelPadding": 13, "labelOverlap": false}},
                              "y": {"datum": 33, "type": "quantitative", "scale": {"domain": [0, 50], "range": [60, 10], "nice": false, "zero": false}, "axis": {"values": [0, 20, 40], "offset": -29, "labelFontSize": 9.5, "labelPadding": 9, "labelOverlap": false}},
                              "text": {"field": "r", "type": "nominal"}}}
                          ]
                        },
                        {"width": 135, "height": 2, "view": {"fill": "white"}, "data": {"values": []}, "mark": "point"}
                      ],
                      "spacing": 0
                    },
                    {"width": 2, "height": 100, "view": {"fill": "white"}, "data": {"values": []}, "mark": "point"}
                  ],
                  "spacing": 0
                },
                {"width": 105, "height": 100, "view": {"fill": "white"}, "data": {"values": [{"b": "Y=7144.9x", "e": "-1.671"}]}, "layer": [{"mark": {"type": "text", "fontSize": 11.5, "align": "right", "dx": 23.3}, "encoding": {"text": {"field": "b"}}}, {"mark": {"type": "text", "fontSize": 7, "align": "left", "dx": 23.3, "dy": -4}, "encoding": {"text": {"field": "e"}}}]},
                {"width": 73, "height": 100, "view": {"fill": "white"}, "data": {"values": [{"t": "12.12"}]}, "mark": {"type": "text", "fontSize": 12, "dx": 5}, "encoding": {"text": {"field": "t"}}}
              ],
              "spacing": 3
            }
          ],
          "spacing": 3
        }
      ],
      "spacing": 3
    }
  ]
}
